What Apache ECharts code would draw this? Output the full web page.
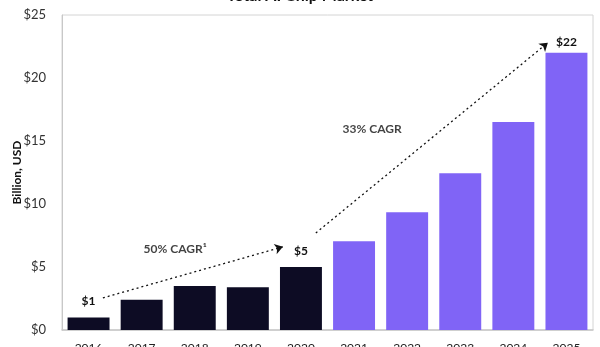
<!DOCTYPE html>
<html>
<head>
<meta charset="utf-8">
<script src="https://cdn.jsdelivr.net/npm/echarts@6/dist/echarts.min.js"></script>
<style>
  html, body { margin: 0; padding: 0; background: #fff; }
  #chart { width: 600px; height: 347px; }
</style>
</head>
<body>
<div id="chart"></div>
<script>
// Market size by year, billions of USD
const years = ['2016', '2017', '2018', '2019', '2020', '2021', '2022', '2023', '2024', '2025'];
const values = [1, 2.4, 3.5, 3.4, 5, 7.05, 9.35, 12.45, 16.5, 22];
const historicCount = 5; // 2016–2020 actuals, the rest forecast
const valueLabels = ['$1', '', '', '', '$5', '', '', '', '', '$22'];
const yTicks = [0, 5, 10, 15, 20, 25];

// Growth arrows in (category position, value) units
const arrowHistoric = [[0.27, 2.55], [3.66, 6.6]];
const arrowForecast = [[4.28, 7.7], [8.65, 22.8]];
const cagrTexts = [
  { text: '50% CAGR\u00B9', at: [1.63, 6.43] },
  { text: '33% CAGR', at: [5.34, 15.95] }
];

const FONT = 'Lato, "Open Sans", sans-serif';
const DARK = '#0d0c24';
const PURPLE = '#8064f6';

const chart = echarts.init(document.getElementById('chart'));
chart.setOption({
  animation: false,
  textStyle: { fontFamily: FONT },
  title: {
    text: 'Total AI Chip Market',
    left: 'center',
    top: -17,
    textStyle: { fontFamily: FONT, fontSize: 16, fontWeight: 'bold', color: '#111' }
  },
  grid: {
    left: 62, right: 7, top: 15, bottom: 17,
    outerBoundsMode: 'none',
    containLabel: false,
    show: true, borderColor: '#d4d4d4', borderWidth: 1, backgroundColor: 'transparent'
  },
  xAxis: [
    {
      type: 'category',
      data: years,
      axisLine: { lineStyle: { color: '#c8c8c8', width: 1.5 } },
      axisTick: { show: false },
      axisLabel: { color: '#222', fontSize: 12, margin: 12, fontFamily: FONT }
    },
    {
      type: 'value', min: -0.5, max: 9.5, show: false
    }
  ],
  yAxis: {
    type: 'value',
    min: yTicks[0],
    max: yTicks[yTicks.length - 1],
    interval: 5,
    name: 'Billion, USD',
    nameLocation: 'middle',
    nameGap: 39,
    nameMoveOverlap: false,
    nameTextStyle: { fontSize: 12, fontWeight: 'bold', color: '#111', fontFamily: FONT },
    axisLine: { show: true, onZero: false, lineStyle: { color: '#c8c8c8' } },
    axisTick: { show: false },
    splitLine: { show: false },
    axisLabel: { color: '#333', fontSize: 13, margin: 16, fontFamily: FONT, formatter: v => '$' + v }
  },
  series: [
    {
      type: 'bar',
      barWidth: '79%',
      data: values.map((v, i) => ({
        value: v,
        itemStyle: { color: i < historicCount ? DARK : PURPLE },
        label: {
          show: valueLabels[i] !== '',
          position: 'top',
          distance: i === 9 ? 5 : 10,
          formatter: valueLabels[i],
          fontSize: 12, fontWeight: 'bold', color: '#111', fontFamily: FONT
        }
      }))
    },
    {
      type: 'scatter',
      xAxisIndex: 1,
      symbolSize: 0,
      data: cagrTexts.map(c => ({ value: c.at, name: c.text })),
      label: {
        show: true, position: 'inside', formatter: p => p.name,
        fontSize: 12, fontWeight: 'bold', color: '#111', fontFamily: FONT
      },
      markLine: {
        silent: true,
        symbol: ['none', 'arrow'],
        symbolSize: 8,
        label: { show: false },
        lineStyle: { type: [2, 3], color: '#111', width: 1.3 },
        data: [
          [{ coord: arrowHistoric[0] }, { coord: arrowHistoric[1] }],
          [{ coord: arrowForecast[0] }, { coord: arrowForecast[1] }]
        ]
      }
    }
  ]
});
</script>
</body>
</html>
